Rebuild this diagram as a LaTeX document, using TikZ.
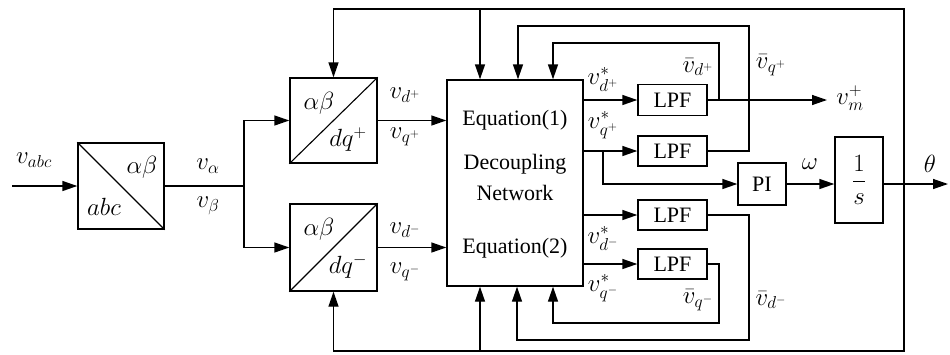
\documentclass[tikz,border=0pt]{standalone}
\usepackage{amsmath}
\usepackage{fontspec}
\setmainfont{Liberation Serif}
\usetikzlibrary{arrows.meta}
\begin{document}
\begin{tikzpicture}[x=1pt,y=-1pt,line width=1.4pt,
  >={Triangle[length=15pt,width=10pt]},
  blk/.style={draw, inner sep=0pt, font=\fontsize{22}{26}\selectfont},
  lbl/.style={inner sep=0pt, font=\fontsize{26}{30}\selectfont},
  inlbl/.style={inner sep=0pt, font=\fontsize{26}{30}\selectfont},
  txt/.style={inner sep=0pt, font=\fontsize{22}{26}\selectfont}]
\useasboundingbox (0,0) rectangle (950,354);

% blocks
\node[blk, minimum width=86pt, minimum height=86pt] (abc) at (121,186) {};
\node[blk, minimum width=87pt, minimum height=85pt] (dqp) at (333.5,120.5) {};
\node[blk, minimum width=87pt, minimum height=87pt] (dqm) at (333.5,247.5) {};
\node[blk, minimum width=136pt, minimum height=206pt] (dec) at (515,183) {};
\node[blk, minimum width=69pt, minimum height=31pt] (lpf1) at (672.5,100) {LPF};
\node[blk, minimum width=69pt, minimum height=30pt] (lpf2) at (672.5,151) {LPF};
\node[blk, minimum width=69pt, minimum height=30pt] (lpf3) at (672.5,215) {LPF};
\node[blk, minimum width=69pt, minimum height=30pt] (lpf4) at (672.5,264) {LPF};
\node[blk, minimum width=48pt, minimum height=42pt] (pi) at (762,184) {PI};
\node[blk, minimum width=48pt, minimum height=86pt, font=\fontsize{28}{32}\selectfont] (integ) at (859,180) {$\dfrac{1}{s}$};

% diagonals and inner labels
\draw[line width=1.1pt] (abc.north west) -- (abc.south east);
\draw[line width=1.1pt] (dqp.south west) -- (dqp.north east);
\draw[line width=1.1pt] (dqm.south west) -- (dqm.north east);
\node[inlbl] (abcab) at (142,167) {$\alpha\beta$};
\node[inlbl] (abcabc) at (104,207) {$abc$};
\node[inlbl] (dqpab) at (319,103) {$\alpha\beta$};
\node[inlbl] (dqpdq) at (348,140) {$dq^{+}$};
\node[inlbl] (dqmab) at (319,229) {$\alpha\beta$};
\node[inlbl] (dqmdq) at (348,266) {$dq^{-}$};

% decoupling text
\node[txt] (eq1) at (515,120) {Equation(1)};
\node[txt] (dc1) at (515,164) {Decoupling};
\node[txt] (dc2) at (515,193) {Network};
\node[txt] (eq2) at (515,248) {Equation(2)};

% coordinates
\coordinate (in) at (12,186);
\coordinate (j1) at (244,186);
\coordinate (out) at (948,184);
\coordinate (th) at (904,184);
\coordinate (t) at (904,9);
\coordinate (b) at (904,351);
\coordinate (t1) at (480,9);
\coordinate (b1) at (480,351);
\coordinate (j2) at (719,100);
\coordinate (c43) at (553,43);
\coordinate (r26) at (749,26);
\coordinate (l26) at (518,26);
\coordinate (j3) at (603,151);
\coordinate (vm) at (827,100);
\coordinate (r340) at (749,340);
\coordinate (l340) at (517,340);
\coordinate (r323) at (719,323);
\coordinate (l323) at (553,323);

% connectors
\draw[->] (in) -- (abc.west);
\draw (abc.east) -- (j1);
\draw[->] (j1) |- (dqp.west);
\draw[->] (j1) |- (dqm.west);
\draw[->] (dqp.east) -- (dqp.east -| dec.west);
\draw[->] (dqm.east) -- (dqm.east -| dec.west);

\draw[->] (dec.east |- lpf1.west) -- (lpf1.west);
\draw[->] (dec.east |- lpf2.west) -- (lpf2.west);
\draw[->] (dec.east |- lpf3.west) -- (lpf3.west);
\draw[->] (dec.east |- lpf4.west) -- (lpf4.west);

\draw[->] (lpf1.east) -- (vm);
\draw[->] (j2) |- (c43) -- (c43 |- dec.north);
\draw[->] (lpf2.east) -| (r26) -- (l26) -- (l26 |- dec.north);
\draw[->] (lpf3.east) -| (r340) -- (l340) -- (l340 |- dec.south);
\draw[->] (lpf4.east) -| (r323) -- (l323) -- (l323 |- dec.south);

\draw[->] (j3) |- (pi.west);
\draw[->] (pi.east) -- (pi.east -| integ.west);
\draw[->] (integ.east |- out) -- (out);
\draw[->] (th) -- (t) -| (dqp.north);
\draw[->] (t1) -- (t1 |- dec.north);
\draw[->] (th) -- (b) -| (dqm.south);
\draw[->] (b1) -- (b1 |- dec.south);

% labels
\node[lbl] (lvabc) at (34,160) {$v_{abc}$};
\node[lbl] (lva) at (208,166) {$v_{\alpha}$};
\node[lbl] (lvb) at (208,206) {$v_{\beta}$};
\node[lbl] (lvdp) at (405,95) {$v_{d^{+}}$};
\node[lbl] (lvqp) at (405,137) {$v_{q^{+}}$};
\node[lbl] (lvdm) at (405,230) {$v_{d^{-}}$};
\node[lbl] (lvqm) at (405,272) {$v_{q^{-}}$};
\node[lbl] (lsdp) at (603,79) {$v^{*}_{d^{+}}$};
\node[lbl] (lsqp) at (603,125) {$v^{*}_{q^{+}}$};
\node[lbl] (lsdm) at (603,238) {$v^{*}_{d^{-}}$};
\node[lbl] (lsqm) at (603,288) {$v^{*}_{q^{-}}$};
\node[lbl] (lbdp) at (698,67) {$\bar{v}_{d^{+}}$};
\node[lbl] (lbqp) at (771,65) {$\bar{v}_{q^{+}}$};
\node[lbl] (lbqm) at (698,300) {$\bar{v}_{q^{-}}$};
\node[lbl] (lbdm) at (771,300) {$\bar{v}_{d^{-}}$};
\node[lbl] (lvm) at (850,98) {$v_{m}^{+}$};
\node[lbl] (lw) at (810,164) {$\omega$};
\node[lbl] (lth) at (930,164) {$\theta$};
\end{tikzpicture}
\end{document}
